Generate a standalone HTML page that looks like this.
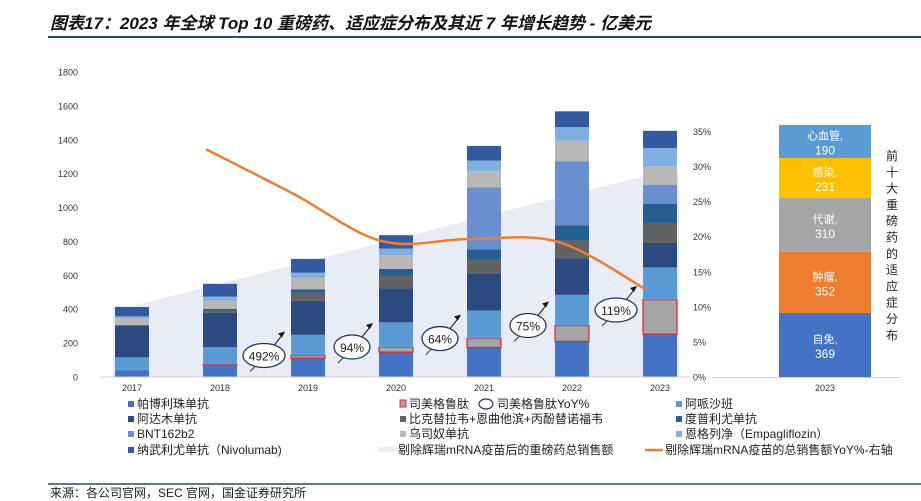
<!DOCTYPE html>
<html><head><meta charset="utf-8">
<style>
body{margin:0;background:#fff;width:921px;height:501px;overflow:hidden;font-family:"Liberation Sans","Noto Sans CJK SC",sans-serif;}
svg{display:block}
</style></head>
<body>
<svg width="921" height="501" viewBox="0 0 921 501">
<text x="50" y="29" font-size="17" font-weight="bold" font-style="italic" fill="#111" font-family="'Liberation Sans','Noto Sans CJK SC',sans-serif">图表17：2023 年全球 Top 10 重磅药、适应症分布及其近 7 年增长趋势 - 亿美元</text>
<line x1="48" y1="37" x2="921" y2="37" stroke="#1F4E79" stroke-width="2"/>
<g id="main"></g>
<g id="side"></g>
<g id="legend"></g>
<line x1="48" y1="484" x2="921" y2="484" stroke="#1F4E79" stroke-width="1.5"/>
<text x="50" y="497" font-size="12" fill="#222">来源：各公司官网，SEC 官网，国金证券研究所</text>
</svg>
<script>
const years=["2017","2018","2019","2020","2021","2022","2023"];
const pembro=[38,69,108,144,171,207,250];
const sema=[0,2,16,30,53,94,203];
const apix=[75,102,122,146,165,181,191];
const adali=[187,202,200,199,216,216,144];
const bikt=[5,14,49,77,83,104,118];
const dupi=[0,10,20,39,63,89,114];
const bnt=[0,0,0,0,366,378,112];
const uste=[40,49,65,81,96,122,108];
const empa=[10,24,33,39,61,81,108];
const nivo=[55,75,81,79,87,93,102];
const areaVals=[415,548,680,812,945,1075,1205];
const yoyLine=[null,32.4,26.0,19.3,19.6,19.2,12.4];
const yoyBubbles=["","","492%","94%","64%","75%","119%"];
const leftTicks=[0,200,400,600,800,1000,1200,1400,1600,1800];
const rightTicks=[0,5,10,15,20,25,30,35];
const sideCats=["自免","肿瘤","代谢","感染","心血管"];
const sideVals=[369,352,310,231,190];

const NS="http://www.w3.org/2000/svg";
function mk(tag,attrs,parent){const e=document.createElementNS(NS,tag);for(const k in attrs)e.setAttribute(k,attrs[k]);parent.appendChild(e);return e;}
const main=document.getElementById('main');
const y0=376.5,pxPer=305/1800;
const yL=v=>y0-v*pxPer;
const yR=p=>y0-p*(245.5/35);
const xC=i=>132+i*88;
const bw=34;

// area
let pts=[];
areaVals.forEach((v,i)=>{if(i==0)pts.push([xC(i)-bw/2-2,yL(v)]);pts.push([xC(i),yL(v)]);if(i==areaVals.length-1)pts.push([xC(i)+bw/2+2,yL(v)]);});
let d="M"+pts[0][0]+","+y0+" "+pts.map(p=>"L"+p[0]+","+p[1]).join(" ")+" L"+pts[pts.length-1][0]+","+y0+"Z";
const area=mk('path',{d:d,fill:"#E7ECF6"},main);



// axes labels
leftTicks.forEach(t=>{const e=mk('text',{x:78,y:yL(t)+4,"font-size":9,"text-anchor":"end",fill:"#333"},main);e.textContent=t;

});
rightTicks.forEach(t=>{const e=mk('text',{x:693,y:yR(t)+4,"font-size":9,fill:"#333"},main);e.textContent=t+"%";

});
const ax=mk('line',{x1:100,y1:y0+0.5,x2:690,y2:y0+0.5,stroke:"#D0D0D0","stroke-width":1},main);



const series=[[pembro,"#4472C4","帕博利珠单抗"],[sema,"#A5A5A5","司美格鲁肽"],[apix,"#5B9BD5","阿哌沙班"],[adali,"#2A4A80","阿达木单抗"],[bikt,"#636363","比克替拉韦"],[dupi,"#255E91","度普利尤单抗"],[bnt,"#6A8FD0","BNT162b2"],[uste,"#B7B7B7","乌司奴单抗"],[empa,"#7FB0E0","恩格列净"],[nivo,"#335AA1","纳武利尤单抗"]];
years.forEach((yr,i)=>{
 let acc=0;
 series.forEach((s,si)=>{const v=s[0][i];if(v<=0){return;}
  const r=mk('rect',{x:xC(i)-bw/2,y:yL(acc+v),width:bw,height:v*pxPer,fill:s[1]},main);
  if(si==1){r.setAttribute('stroke','#E8242B');r.setAttribute('stroke-width','1.2');}
  
  
  acc+=v;});
 const t=mk('text',{x:xC(i),y:391,"font-size":9,"text-anchor":"middle",fill:"#333"},main);t.textContent=yr;
 
 
});

// orange line (smooth)
const lp=[];yoyLine.forEach((v,i)=>{if(v!=null)lp.push([xC(i)-14,yR(v)]);});
let ld="M"+lp[0][0]+","+lp[0][1];
for(let i=0;i<lp.length-1;i++){const p0=lp[i-1]||lp[i],p1=lp[i],p2=lp[i+1],p3=lp[i+2]||p2;
 ld+=` C${p1[0]+(p2[0]-p0[0])/6},${p1[1]+(p2[1]-p0[1])/6} ${p2[0]-(p3[0]-p1[0])/6},${p2[1]-(p3[1]-p1[1])/6} ${p2[0]},${p2[1]}`;}
const line=mk('path',{d:ld,fill:"none",stroke:"#ED7D31","stroke-width":2.5},main);



// bubbles
yoyBubbles.forEach((lab,i)=>{if(!lab)return;
 const semaTop=yL(pembro[i]+sema[i]);
 const cx=xC(i)-44,cy=Math.max(semaTop,310);
 const g=mk('g',{},main);
 
 
 mk('line',{x1:cx-8,y1:cy+10,x2:cx-14,y2:cy+16,stroke:"#333","stroke-width":1},g);
 mk('line',{x1:cx+10,y1:cy-10,x2:cx+18,y2:cy-20,stroke:"#111","stroke-width":1},g);
 mk('path',{d:`M${cx+21},${cy-24} l-7,2 l4,4 z`,fill:"#111"},g);
 mk('ellipse',{cx:cx,cy:cy,rx:lab.length>3?21:18,ry:12,fill:"#fff",stroke:"#1F3864","stroke-width":1.3},g);
 const t=mk('text',{x:cx,y:cy+5,"font-size":12,"text-anchor":"middle",fill:"#222"},g);t.textContent=lab;
});

// side panel
const side=document.getElementById('side');
const sy0=377,sp=252/1452;let acc=0;
const sCol=["#4472C4","#ED7D31","#A5A5A5","#FFC000","#5B9BD5"];
sideVals.forEach((v,i)=>{const top=sy0-(acc+v)*sp;
 const r=mk('rect',{x:779,y:top,width:92,height:v*sp,fill:sCol[i]},side);
 
 
 const mid=top+v*sp/2;
 const t1=mk('text',{x:825,y:mid-2,"font-size":11,"text-anchor":"middle",fill:"#fff"},side);t1.textContent=sideCats[i]+",";
 const t2=mk('text',{x:825,y:mid+13,"font-size":12,"text-anchor":"middle",fill:"#fff"},side);t2.textContent=v;
 acc+=v;});
const sax=mk('line',{x1:712,y1:377.5,x2:901,y2:377.5,stroke:"#D0D0D0"},side);


const sl=mk('text',{x:825,y:391,"font-size":9,"text-anchor":"middle",fill:"#333"},side);sl.textContent="2023";
const vt="前十大重磅药的适应症分布";
[...vt].forEach((c,i)=>{const t=mk('text',{x:892,y:160+i*16.3,"font-size":12,"text-anchor":"middle",fill:"#222"},side);t.textContent=c;});

// legend
const leg=document.getElementById('legend');
const items=[
 [128,408,"sq","#4472C4","帕博利珠单抗"],[400,408,"sema","","司美格鲁肽"],[676,408,"sq","#5B9BD5","阿哌沙班"],
 [128,423,"sq","#2A4A80","阿达木单抗"],[400,423,"sq","#636363","比克替拉韦+恩曲他滨+丙酚替诺福韦"],[676,423,"sq","#255E91","度普利尤单抗"],
 [128,438,"sq","#6A8FD0","BNT162b2"],[400,438,"sq","#B7B7B7","乌司奴单抗"],[676,438,"sq","#7FB0E0","恩格列净（Empagliflozin）"],
 [128,454,"sq","#335AA1","纳武利尤单抗（Nivolumab)"],[378,454,"area","","剔除辉瑞mRNA疫苗后的重磅药总销售额"],[645,454,"line","","剔除辉瑞mRNA疫苗的总销售额YoY%-右轴"]];
items.forEach(it=>{const [x,y,k,c,lab]=it;const g=mk('g',{},leg);
 
 
 let tx=x+9;
 if(k=="sq")mk('rect',{x:x,y:y-7,width:6,height:6,fill:c},g);
 if(k=="sema")mk('rect',{x:x,y:y-8,width:6,height:7,fill:"#A5A5A5",stroke:"#E8242B","stroke-width":1},g);
 if(k=="area"){mk('rect',{x:x,y:y-7,width:16,height:5,fill:"#E7ECF6"},g);tx=x+20;}
 if(k=="line"){mk('line',{x1:x,y1:y-4,x2:x+18,y2:y-4,stroke:"#ED7D31","stroke-width":2.5},g);tx=x+20;}
 const t=mk('text',{x:tx,y:y,"font-size":12,fill:"#222"},g);t.textContent=lab;});
// bubble legend
const bg=mk('g',{},leg);


mk('ellipse',{cx:486,cy:404,rx:7,ry:5,fill:"#fff",stroke:"#1F3864","stroke-width":1.2},bg);
const bt=mk('text',{x:497,y:408,"font-size":12,fill:"#222"},bg);bt.textContent="司美格鲁肽YoY%";
</script>
</body></html>
